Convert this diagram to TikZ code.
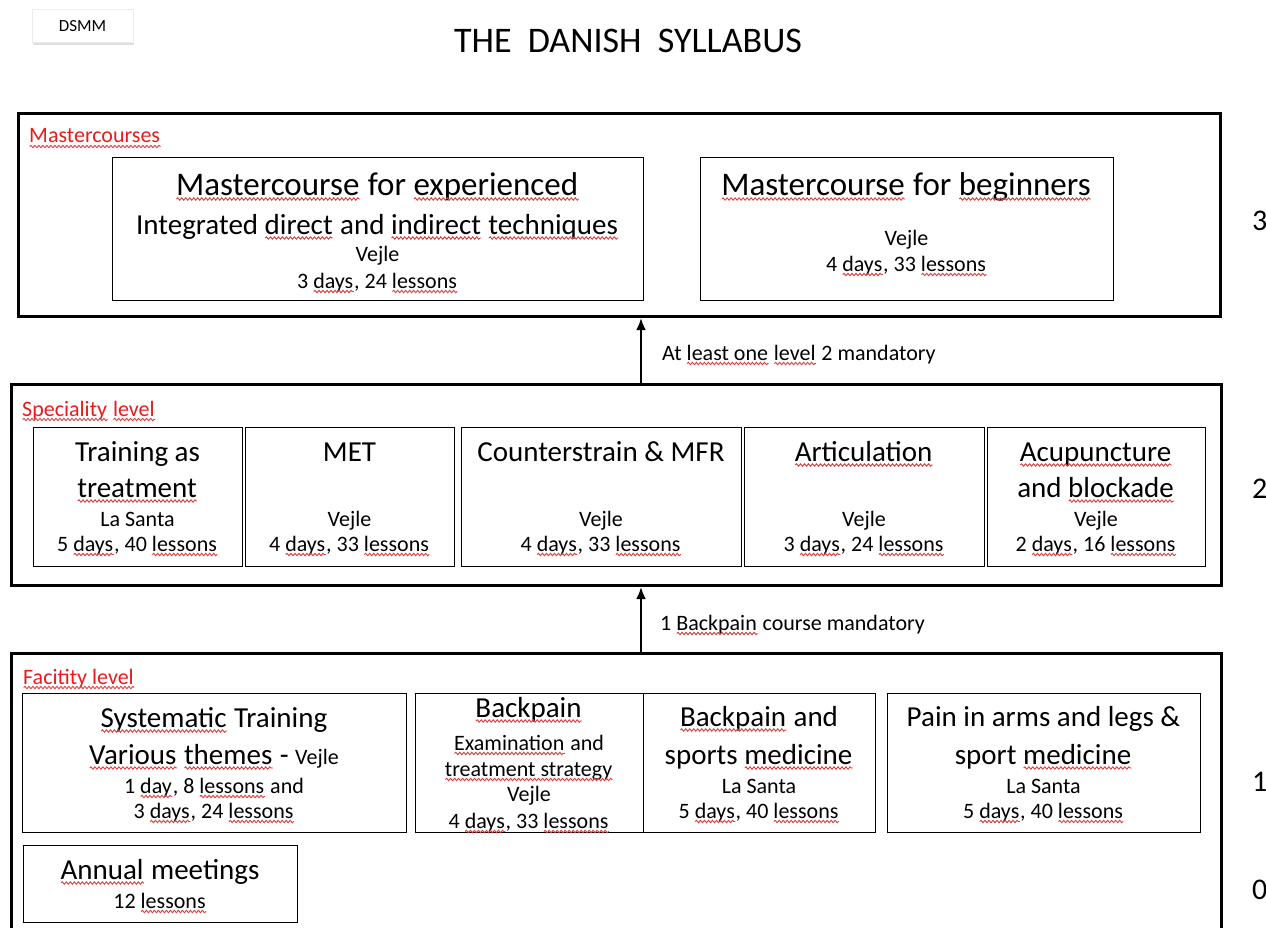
\documentclass[tikz,border=0pt]{standalone}
\usepackage{fontspec}
\setmainfont{Carlito}
\usetikzlibrary{arrows.meta,shadows,decorations.pathmorphing}
\definecolor{sqc}{RGB}{222,60,60}
\definecolor{labc}{RGB}{232,28,28}
\newsavebox\sqbox
\newcommand\sq[1]{\sbox\sqbox{#1}\usebox\sqbox\hspace{-\wd\sqbox}\tikz[baseline=0pt]\draw[sqc, line width=0.9pt, decorate, decoration={snake, amplitude=1.2pt, segment length=4pt}] (0pt,-3.5pt) -- (\the\wd\sqbox,-3.5pt);}
\newcommand\fsz[1]{\fontsize{#1}{#1}\selectfont}
\tikzset{
  outerbox/.style={draw, line width=3pt, anchor=north west, inner sep=0pt},
  ibox/.style={draw, line width=1.4pt, anchor=north west, inner sep=0pt},
  tt/.style={inner sep=0pt, anchor=center, yshift=-3pt},
  tXL/.style={tt, font=\fsz{33}, text height=23pt, text depth=8pt},
  tL/.style={tt, font=\fsz{29}, text height=20pt, text depth=7pt},
  tM/.style={tt, font=\fsz{29}, text height=20pt, text depth=7pt},
  tS/.style={tt, font=\fsz{22}, text height=15pt, text depth=5pt},
  lab/.style={inner sep=0pt, anchor=west, font=\fsz{22}, text=labc, text height=15pt, text depth=5pt, yshift=-5pt},
  note/.style={inner sep=0pt, anchor=west, font=\fsz{22}, text height=15pt, text depth=5pt, yshift=-2pt},
  num/.style={inner sep=0pt, anchor=west, font=\fsz{30}, text height=20pt, text depth=0pt},
  arr/.style={line width=2.5pt, -{Latex[length=12pt,width=10pt]}}
}
\begin{document}
\begin{tikzpicture}[x=1pt,y=-1pt]
\useasboundingbox (0,0) rectangle (1266,928);
\fill[white] (0,0) rectangle (1266,928);

% header
\node[fill=white, draw=black!8, drop shadow={shadow xshift=1pt, shadow yshift=-3pt, opacity=.25},
      minimum width=101pt, minimum height=33pt, inner sep=0pt, font=\fsz{17}] (dsmm) at (82.5,26) {DSMM};
\node[tt, font=\fsz{36}] (title) at (628,38) {THE\ \ DANISH\ \ SYLLABUS};

% level 3
\node[outerbox, minimum width=1202pt, minimum height=203pt] (L3) at (17,112) {};
\node[lab] (L3lab) at (29,133) {\sq{Mastercourses}};
\node[ibox, minimum width=531pt, minimum height=143pt] (mA) at (112,157) {};
\node[tXL] (mA1) at (377.5,185) {\sq{Mastercourse} for \sq{experienced}};
\node[tM] (mA2) at (377.5,225) {Integrated \sq{direct} and \sq{indirect} \sq{techniques}};
\node[tS] (mA3) at (377.5,253) {Vejle};
\node[tS] (mA4) at (377.5,280) {3 \sq{days}, 24 \sq{lessons}};
\node[ibox, minimum width=413pt, minimum height=143pt] (mB) at (700,157) {};
\node[tXL] (mB1) at (906.5,185) {\sq{Mastercourse} for \sq{beginners}};
\node[tS] (mB3) at (906.5,237) {Vejle};
\node[tS] (mB4) at (906.5,263) {4 \sq{days}, 33 \sq{lessons}};
\node[num] (n3) at (1252,220) {3};

% level 2
\node[outerbox, minimum width=1210pt, minimum height=201pt] (L2) at (10,383) {};
\node[lab] (L2lab) at (22,406) {\sq{Speciality} \sq{level}};
\node[ibox, minimum width=209pt, minimum height=139pt] (tr) at (33,427) {};
\node[tL] (tr1) at (137.5,452) {Training as};
\node[tL] (tr2) at (137.5,488) {\sq{treatment}};
\node[tS] (tr3) at (137.5,518) {La Santa};
\node[tS] (tr4) at (137.5,543) {5 \sq{days}, 40 \sq{lessons}};
\node[ibox, minimum width=209pt, minimum height=139pt] (met) at (245,427) {};
\node[tL] (met1) at (349.5,452) {MET};
\node[tS] (met3) at (349.5,518) {Vejle};
\node[tS] (met4) at (349.5,543) {4 \sq{days}, 33 \sq{lessons}};
\node[ibox, minimum width=280pt, minimum height=139pt] (cs) at (461,427) {};
\node[tL] (cs1) at (601,452) {Counterstrain \& MFR};
\node[tS] (cs3) at (601,518) {Vejle};
\node[tS] (cs4) at (601,543) {4 \sq{days}, 33 \sq{lessons}};
\node[ibox, minimum width=240pt, minimum height=139pt] (art) at (744,427) {};
\node[tL] (art1) at (864,452) {\sq{Articulation}};
\node[tS] (art3) at (864,518) {Vejle};
\node[tS] (art4) at (864,543) {3 \sq{days}, 24 \sq{lessons}};
\node[ibox, minimum width=218pt, minimum height=139pt] (acu) at (987,427) {};
\node[tL] (acu1) at (1096,452) {\sq{Acupuncture}};
\node[tL] (acu2) at (1096,488) {and \sq{blockade}};
\node[tS] (acu3) at (1096,518) {Vejle};
\node[tS] (acu4) at (1096,543) {2 \sq{days}, 16 \sq{lessons}};
\node[num] (n2) at (1252,488) {2};

% level 1
\node[outerbox, minimum width=1210pt, minimum height=300pt] (L1) at (10,652) {};
\node[lab] (L1lab) at (23,674) {\sq{Facitity level}};
\node[ibox, minimum width=384pt, minimum height=139pt] (sys) at (22,693) {};
\node[tL] (sys1) at (214,718) {\sq{Systematic} Training};
\node[tL] (sys2) at (214,755) {\sq{Various} \sq{themes} - {\fsz{22}Vejle}};
\node[tS] (sys3) at (214,785) {1 \sq{day}, 8 \sq{lessons} and};
\node[tS] (sys4) at (214,810) {3 \sq{days}, 24 \sq{lessons}};
\node[ibox, minimum width=228pt, minimum height=139pt] (bp) at (415,693) {};
\node[tL] (bp1) at (529,708) {\sq{Backpain}};
\node[tS] (bp2) at (529,742) {\sq{Examination} and};
\node[tS] (bp3) at (529,768) {\sq{treatment strategy}};
\node[tS] (bp4) at (529,793) {Vejle};
\node[tS] (bp5) at (529,820) {4 \sq{days}, 33 \sq{lessons}};
\node[ibox, minimum width=232pt, minimum height=139pt] (bps) at (643,693) {};
\node[tL] (bps1) at (759,717) {\sq{Backpain} and};
\node[tL] (bps2) at (759,755) {sports \sq{medicine}};
\node[tS] (bps3) at (759,785) {La Santa};
\node[tS] (bps4) at (759,810) {5 \sq{days}, 40 \sq{lessons}};
\node[ibox, minimum width=313pt, minimum height=139pt] (pain) at (887,693) {};
\node[tL] (pain1) at (1043.5,717) {Pain in arms and legs \&};
\node[tL] (pain2) at (1043.5,755) {sport \sq{medicine}};
\node[tS] (pain3) at (1043.5,785) {La Santa};
\node[tS] (pain4) at (1043.5,810) {5 \sq{days}, 40 \sq{lessons}};
\node[ibox, minimum width=274pt, minimum height=77pt] (ann) at (23,845) {};
\node[tL] (ann1) at (160,870) {\sq{Annual} meetings};
\node[tS] (ann2) at (160,900) {12 \sq{lessons}};
\node[num] (n1) at (1252,781) {1};
\node[num] (n0) at (1252,889) {0};

% arrows
\coordinate (ax) at (641,0);
\draw[arr] (L2.north -| ax) -- (L3.south -| ax);
\node[note] (m1) at (662,353) {At \sq{least one} \sq{level} 2 mandatory};
\draw[arr] (L1.north -| ax) -- (L2.south -| ax);
\node[note] (m2) at (660,623) {1 \sq{Backpain} course mandatory};
\end{tikzpicture}
\end{document}
